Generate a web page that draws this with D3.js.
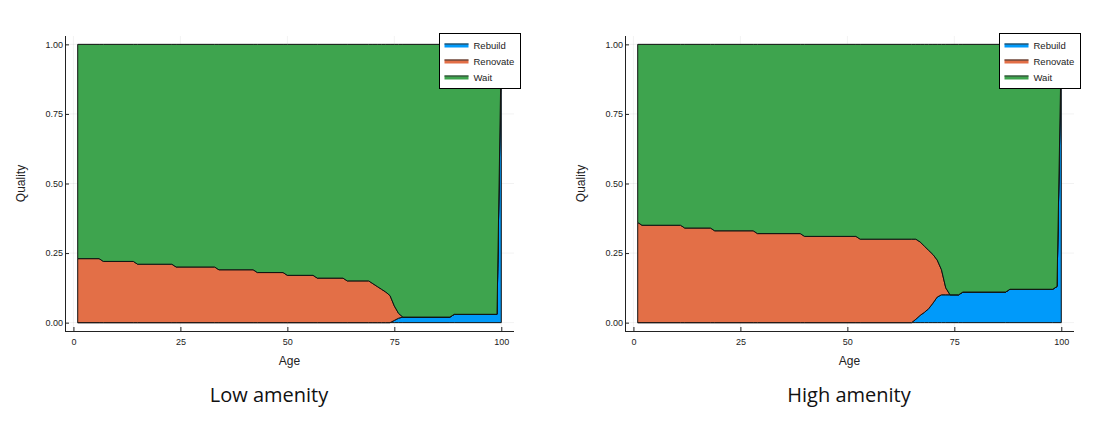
<!DOCTYPE html>
<html>
<head>
<meta charset="utf-8">
<script src="https://cdn.jsdelivr.net/npm/d3@7"></script>
<style>
  body { margin: 0; background: #fff; }
  text { font-family: "Liberation Sans", Arial, sans-serif; }
</style>
</head>
<body>
<div id="chart"></div>
<script>
// series names + colours (Plots.jl default palette)
var keys = ["Rebuild", "Renovate", "Wait"]
var colors = ["#009AFA", "#E36F47", "#3EA44E"]

var xTicks = [0, 25, 50, 75, 100]
var yTicks = [0, 0.25, 0.5, 0.75, 1]

// low amenity: share choosing each option, by age
var lowAges     = [1, 6, 7, 14, 15, 23, 24, 33, 34, 42, 43, 49, 50, 56, 57, 63, 64, 69, 70, 71, 72, 73, 74, 75, 76, 77, 88, 89, 99, 100]
var lowRebuild  = [0, 0, 0, 0, 0, 0, 0, 0, 0, 0, 0, 0, 0, 0, 0, 0, 0, 0, 0, 0, 0, 0, 0, 0.008, 0.016, 0.02, 0.02, 0.03, 0.03, 1]
var lowRenovate = [0.23, 0.23, 0.22, 0.22, 0.21, 0.21, 0.20, 0.20, 0.19, 0.19, 0.18, 0.18, 0.17, 0.17, 0.16, 0.16, 0.15, 0.15, 0.14, 0.13, 0.12, 0.11, 0.097, 0.052, 0.017, 0, 0, 0, 0, 0]

// high amenity
var highAges     = [1, 2, 11, 12, 18, 19, 28, 29, 39, 40, 52, 53, 65, 66, 67, 68, 69, 70, 71, 72, 73, 74, 76, 77, 87, 88, 98, 99, 100]
var highRebuild  = [0, 0, 0, 0, 0, 0, 0, 0, 0, 0, 0, 0, 0, 0.012, 0.026, 0.037, 0.05, 0.07, 0.092, 0.1, 0.1, 0.1, 0.1, 0.11, 0.11, 0.12, 0.12, 0.13, 1]
var highRenovate = [0.36, 0.35, 0.35, 0.34, 0.34, 0.33, 0.33, 0.32, 0.32, 0.31, 0.31, 0.30, 0.30, 0.288, 0.264, 0.238, 0.21, 0.175, 0.133, 0.09, 0.025, 0, 0, 0, 0, 0, 0, 0, 0]

var svg = d3.select("#chart")
    .append("svg")
    .attr("width", 1102)
    .attr("height", 430)

drawPanel(0, lowAges, lowRebuild, lowRenovate, "Low amenity", 269)
drawPanel(560, highAges, highRebuild, highRenovate, "High amenity", 849)

function drawPanel(dx, ages, rebuild, renovate, title, titleX) {
    var g = svg.append("g").attr("transform", "translate(" + dx + ",0)")

    var left = 65, right = 514, top = 36, bottom = 331

    var x = d3.scaleLinear().domain([-1.97, 102.97]).range([left, right])
    var y = d3.scaleLinear().domain([-0.03, 1.03]).range([bottom, top])

    var rows = ages.map(function (a, i) {
        return { age: a, Rebuild: rebuild[i], Renovate: renovate[i], Wait: 1 - rebuild[i] - renovate[i] }
    })
    var series = d3.stack().keys(keys)(rows)

    // grid
    g.append("g").selectAll("line")
        .data(yTicks)
        .enter()
        .append("line")
        .attr("x1", left).attr("x2", right)
        .attr("y1", d => y(d)).attr("y2", d => y(d))
        .attr("stroke", "#000").attr("stroke-opacity", 0.1).attr("stroke-width", 0.5)
    g.append("g").selectAll("line")
        .data(xTicks)
        .enter()
        .append("line")
        .attr("x1", d => x(d)).attr("x2", d => x(d))
        .attr("y1", top).attr("y2", bottom)
        .attr("stroke", "#000").attr("stroke-opacity", 0.1).attr("stroke-width", 0.5)

    var area = d3.area()
        .x(d => x(d.data.age))
        .y0(d => y(d[0]))
        .y1(d => y(d[1]))

    g.selectAll(".band")
        .data(series)
        .enter()
        .append("path")
        .attr("class", "band")
        .attr("d", area)
        .attr("fill", (d, i) => colors[i])
        .attr("stroke", "#111")
        .attr("stroke-width", 1)
        .attr("stroke-linejoin", "round")

    // axes
    var xAxis = d3.axisBottom(x).tickValues(xTicks).tickFormat(d3.format("d")).tickSize(-4).tickPadding(8)
    var yAxis = d3.axisLeft(y).tickValues(yTicks).tickFormat(d3.format(".2f")).tickSize(-4).tickPadding(2)

    var gx = g.append("g").attr("transform", "translate(0," + bottom + ")").call(xAxis)
    var gy = g.append("g").attr("transform", "translate(" + left + ",0)").call(yAxis)
    ;[gx, gy].forEach(function (ax) {
        ax.select(".domain").attr("stroke", "#222").attr("stroke-width", 1)
            .attr("d", ax === gx ? "M" + left + ",0.5H" + right : "M0.5," + top + "V" + bottom)
        ax.selectAll(".tick line").attr("stroke", "#222")
        ax.selectAll(".tick text").attr("fill", "#222").style("font-size", "9px")
            .style("font-family", "Liberation Sans, Arial, sans-serif")
    })

    g.append("text")
        .text("Age")
        .attr("x", (left + right) / 2)
        .attr("y", 365)
        .attr("text-anchor", "middle")
        .style("font-size", "12px")
        .attr("fill", "#222")

    g.append("text")
        .text("Quality")
        .attr("transform", "translate(25," + y(0.5) + ") rotate(-90)")
        .attr("text-anchor", "middle")
        .style("font-size", "12px")
        .attr("fill", "#222")

    // legend
    var lg = g.append("g").attr("transform", "translate(439.5,33.5)")
    lg.append("rect")
        .attr("width", 81).attr("height", 55)
        .attr("fill", "#fff").attr("stroke", "#000").attr("stroke-width", 1)
    keys.forEach(function (k, i) {
        lg.append("rect")
            .attr("x", 5).attr("y", 10 + i * 16)
            .attr("width", 24).attr("height", 4)
            .attr("fill", colors[i])
        lg.append("line")
            .attr("x1", 5).attr("x2", 29)
            .attr("y1", 10.5 + i * 16).attr("y2", 10.5 + i * 16)
            .attr("stroke", "#333").attr("stroke-width", 1)
        lg.append("text")
            .text(k)
            .attr("x", 34)
            .attr("y", 15.5 + i * 16)
            .style("font-size", "9.5px")
            .attr("fill", "#222")
    })

    svg.append("text")
        .text(title)
        .attr("x", titleX)
        .attr("y", 402)
        .attr("text-anchor", "middle")
        .style("font-family", "Open Sans, Noto Sans, sans-serif")
        .style("font-size", "20px")
        .attr("fill", "#111")
}
</script>
</body>
</html>
